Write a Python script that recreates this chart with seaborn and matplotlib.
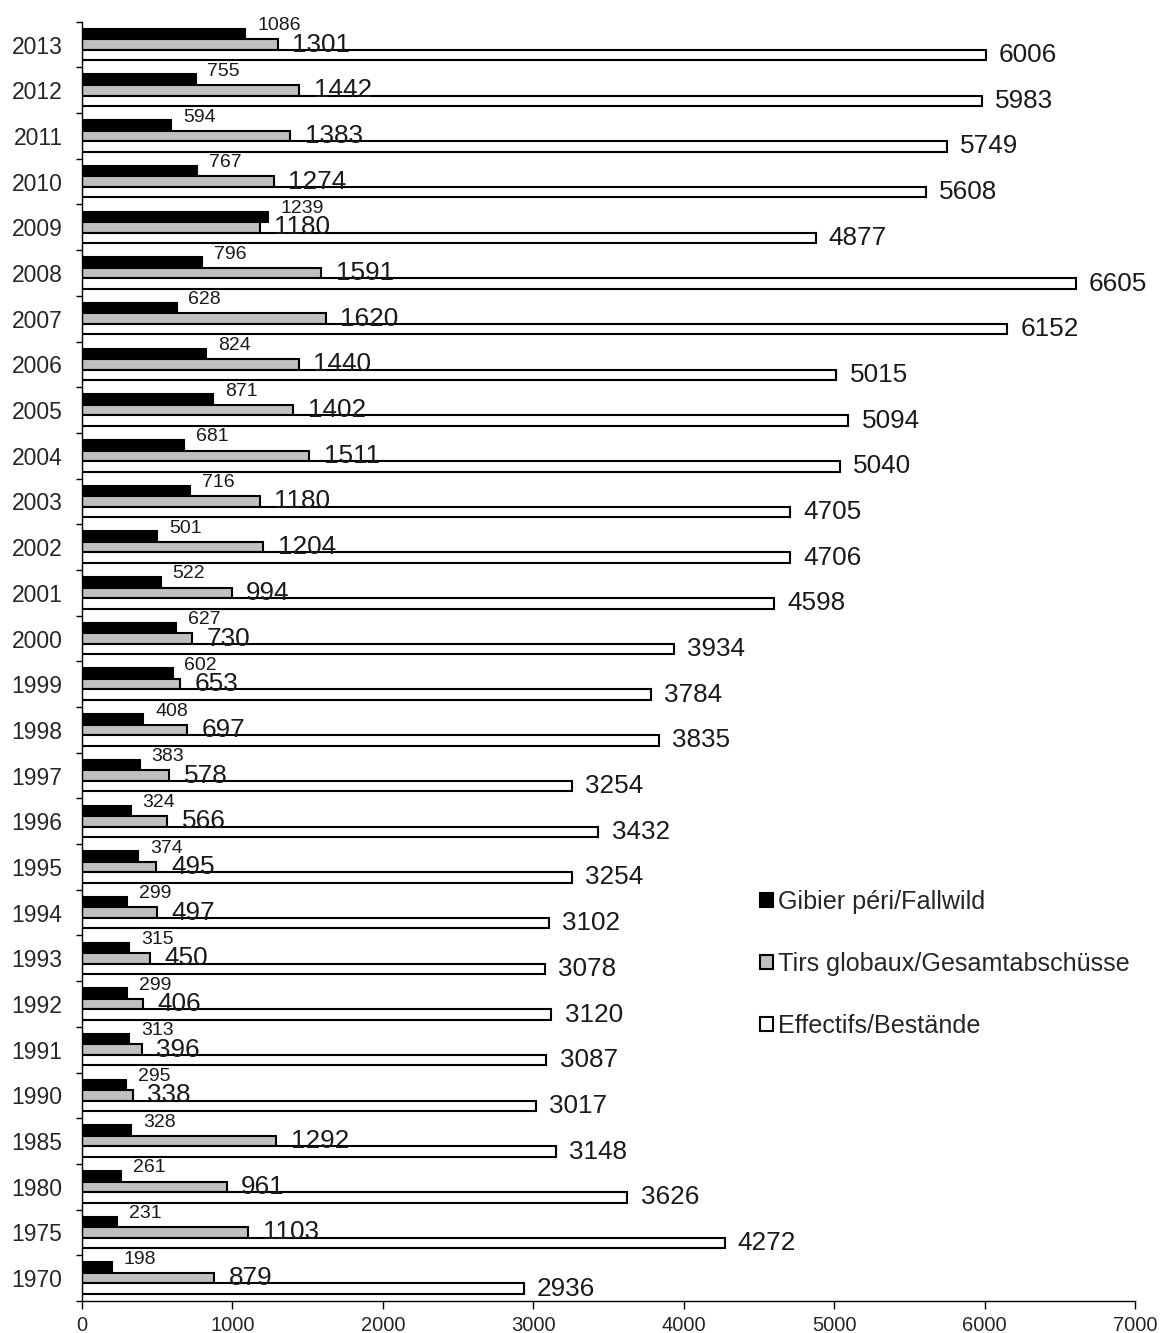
import numpy as np
import pandas as pd
import seaborn as sns
import matplotlib.pyplot as plt

sns.set_theme(style="white")
plt.rcParams['font.family'] = ['Liberation Sans', 'DejaVu Sans']

years = ["2013", "2012", "2011", "2010", "2009", "2008", "2007", "2006", "2005", "2004",
         "2003", "2002", "2001", "2000", "1999", "1998", "1997", "1996", "1995", "1994",
         "1993", "1992", "1991", "1990", "1985", "1980", "1975", "1970"]
fallwild = [1086, 755, 594, 767, 1239, 796, 628, 824, 871, 681,
            716, 501, 522, 627, 602, 408, 383, 324, 374, 299,
            315, 299, 313, 295, 328, 261, 231, 198]
abschuesse = [1301, 1442, 1383, 1274, 1180, 1591, 1620, 1440, 1402, 1511,
              1180, 1204, 994, 730, 653, 697, 578, 566, 495, 497,
              450, 406, 396, 338, 1292, 961, 1103, 879]
bestaende = [6006, 5983, 5749, 5608, 4877, 6605, 6152, 5015, 5094, 5040,
             4705, 4706, 4598, 3934, 3784, 3835, 3254, 3432, 3254, 3102,
             3078, 3120, 3087, 3017, 3148, 3626, 4272, 2936]

series = ["Gibier péri/Fallwild", "Tirs globaux/Gesamtabschüsse", "Effectifs/Bestände"]
colors = {series[0]: "black", series[1]: "#c0c0c0", series[2]: "white"}

df = pd.DataFrame({
    "Year": years * 3,
    "Series": [series[0]] * len(years) + [series[1]] * len(years) + [series[2]] * len(years),
    "Value": fallwild + abschuesse + bestaende,
})

fig = plt.figure(figsize=(11.62, 13.33), dpi=100)
ax = fig.add_axes([0.0706, 0.024, 0.9062, 0.9597])

sns.barplot(data=df, y="Year", x="Value", hue="Series", order=years,
            hue_order=series, palette=colors, orient="h", width=0.69, gap=0,
            edgecolor="black", linewidth=1.5, saturation=1, errorbar=None, ax=ax)

# value labels: small for Fallwild, larger for the others
label_style = [
    dict(size=14, dx=8.5, dy=6),
    dict(size=18.8, dx=10.5, dy=0),
    dict(size=18.8, dx=9.5, dy=0),
]
for cont, st in zip(ax.containers, label_style):
    for bar in cont:
        w = bar.get_width()
        yc = bar.get_y() + bar.get_height() / 2
        ax.annotate(f"{int(round(w))}", xy=(w, yc), xytext=(st["dx"], st["dy"]),
                    textcoords="offset points", ha="left", va="center",
                    fontsize=st["size"], color="#1a1a1a")

ax.set_xlim(0, 7000)
ax.set_xticks(np.arange(0, 7001, 1000))
ax.set_xlabel("")
ax.set_ylabel("")
ax.set_yticks(np.arange(-0.5, len(years), 1), minor=True)
ax.tick_params(axis="y", which="major", length=0, pad=14, labelsize=16.5)
ax.tick_params(axis="y", which="minor", length=4.5, width=1, direction="out", color="black", left=True)
ax.tick_params(axis="x", length=5.5, width=1, direction="out", color="black", pad=5,
               labelsize=14.5, bottom=True)

sns.despine(ax=ax, top=True, right=True)
for sp in ["left", "bottom"]:
    ax.spines[sp].set_color("black")
    ax.spines[sp].set_linewidth(1)

ax.legend(loc="center left", bbox_to_anchor=(0.632, 0.2635), frameon=False,
          fontsize=18.1, handlelength=0.5, handleheight=0.5, handletextpad=0.2,
          labelspacing=1.5, borderpad=0)

plt.savefig("out.png", dpi=100)
